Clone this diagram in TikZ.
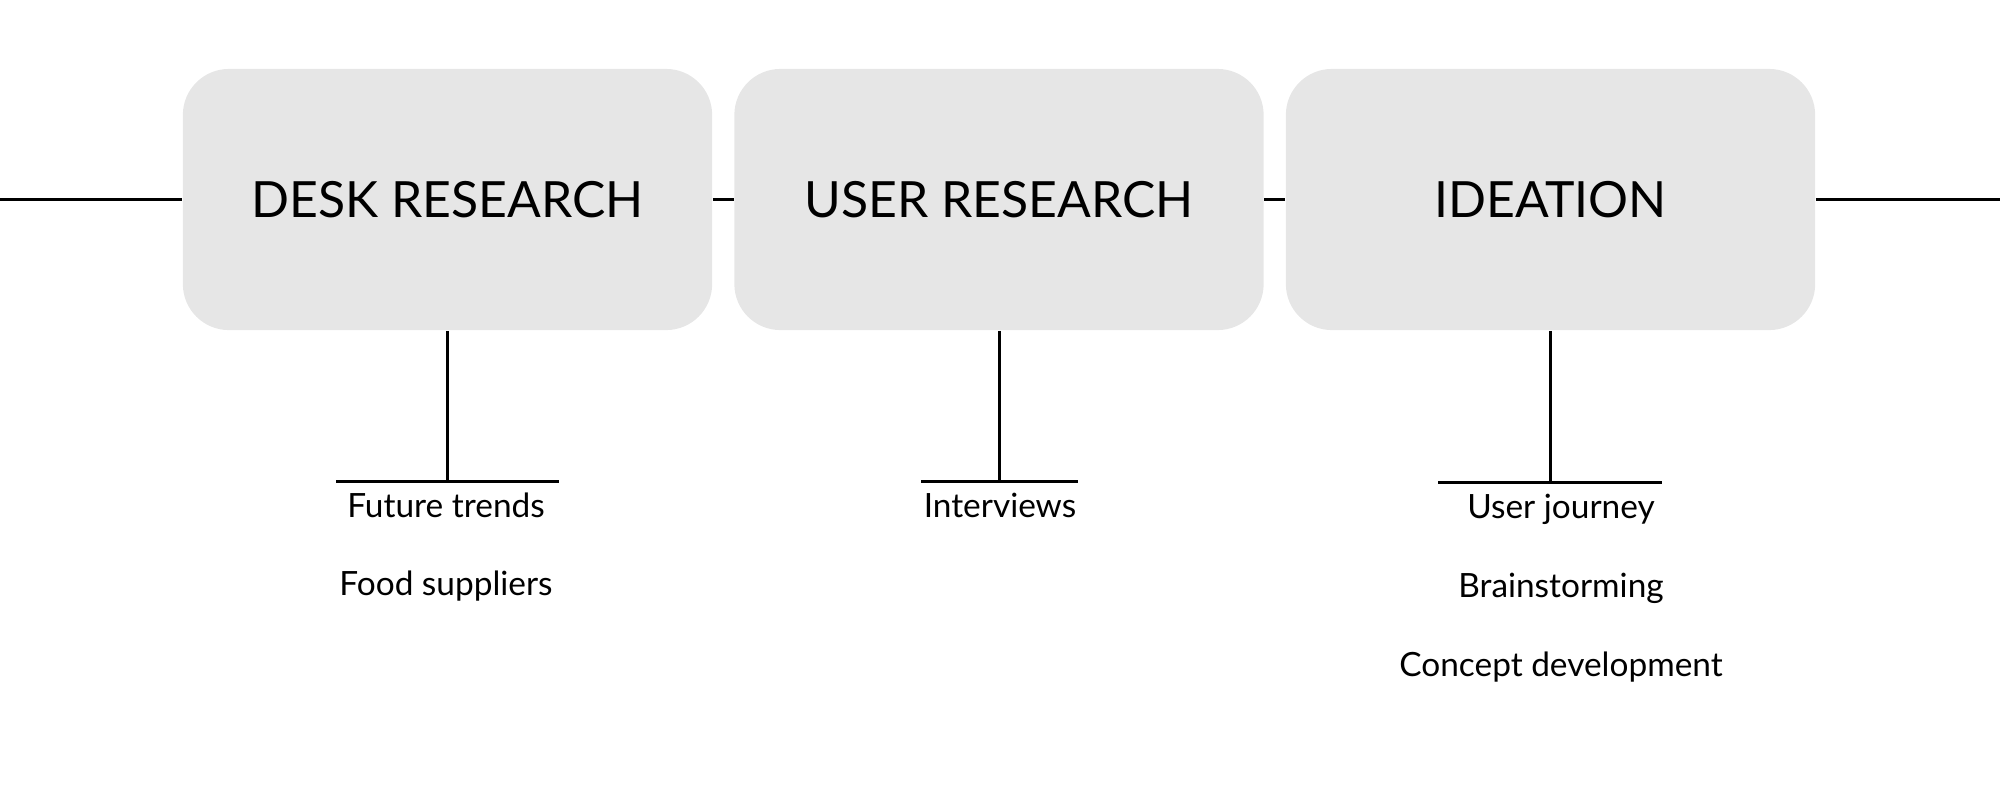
\documentclass[tikz,border=0pt]{standalone}
\usepackage{fontspec}
\setmainfont{Lato}
\usepackage{xcolor}
\usetikzlibrary{positioning}
\definecolor{boxgray}{RGB}{230,230,230}

\begin{document}
\begin{tikzpicture}[x=0.01cm,y=-0.01cm,
    stage/.style={fill=boxgray, rounded corners=0.46cm, inner sep=0pt,
        minimum width=5.29cm, minimum height=2.61cm,
        font=\fontsize{14.2}{17}\selectfont},
    item/.style={anchor=base, inner sep=0pt, font=\fontsize{9.5}{11}\selectfont},
    link/.style={line width=0.85pt}]
    \useasboundingbox (0,0) rectangle (2000,802);

    % Stages
    \node[stage] (desk) at (447.5,199.5) {DESK RESEARCH};
    \node[stage] (user) at (999,199.5) {USER RESEARCH};
    \node[stage] (idea) at (1550.5,199.5) {IDEATION};

    % Timeline
    \coordinate (start) at (0,199.5);
    \coordinate (end) at (2000,199.5);
    \draw[link] (start) -- (desk.west);
    \draw[link] (desk.east) -- (user.west);
    \draw[link] (user.east) -- (idea.west);
    \draw[link] (idea.east) -- (end);

    % Desk research items
    \coordinate (deskbar) at (447.5,481);
    \draw[link] (desk.south) -- (deskbar);
    \draw[link] (336,481) -- (559,481);
    \node[item] (trends) at (446,517) {Future trends};
    \node[item] (food) at (446,595) {Food suppliers};

    % User research items
    \coordinate (userbar) at (999,481);
    \draw[link] (user.south) -- (userbar);
    \draw[link] (921,481) -- (1078,481);
    \node[item] (interviews) at (1000,517) {Interviews};

    % Ideation items
    \coordinate (ideabar) at (1550.5,482);
    \draw[link] (idea.south) -- (ideabar);
    \draw[link] (1438,482) -- (1662,482);
    \node[item] (journey) at (1561,518) {User journey};
    \node[item] (brain) at (1561,597) {Brainstorming};
    \node[item] (concept) at (1561,676) {Concept development};
\end{tikzpicture}
\end{document}
